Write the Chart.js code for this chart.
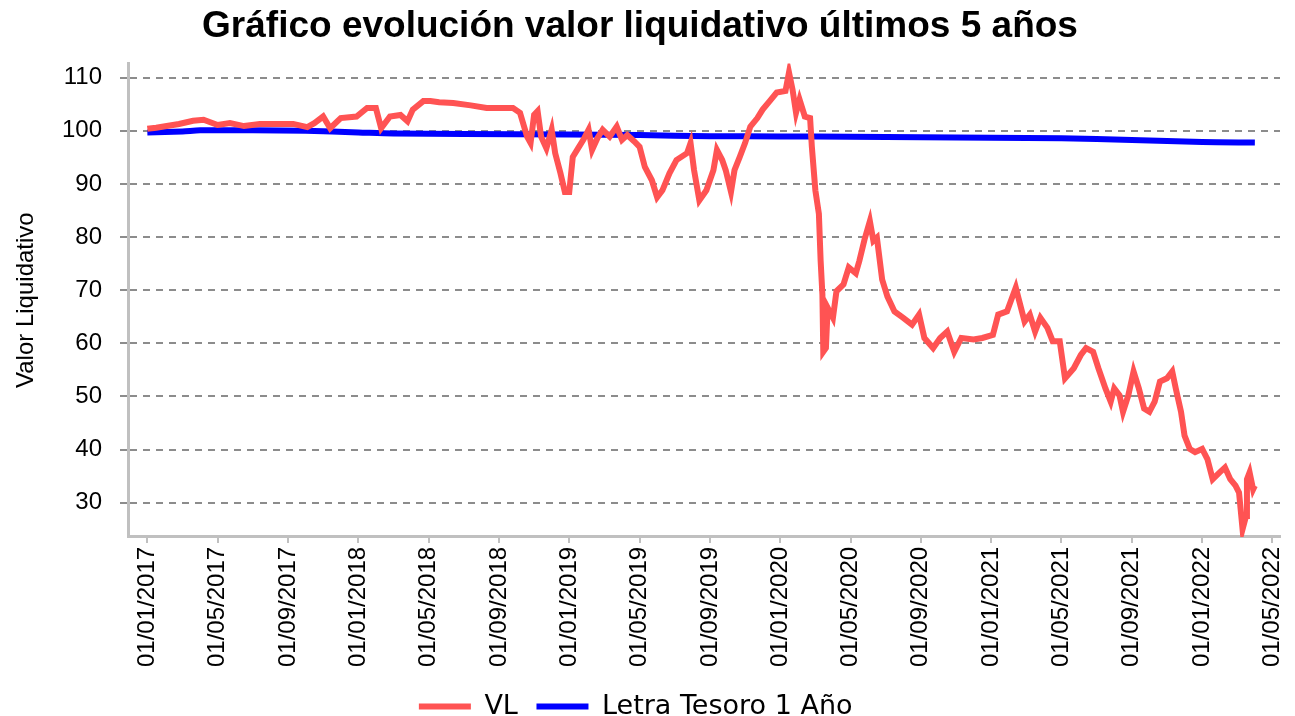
<!DOCTYPE html>
<html>
<head>
<meta charset="utf-8">
<script src="https://cdn.jsdelivr.net/npm/chart.js@4/dist/chart.umd.min.js"></script>
<style>
  html, body { margin: 0; padding: 0; background: #fff; }
  #wrap { width: 1295px; height: 716px; }
</style>
</head>
<body>
<div id="wrap"><canvas id="chart"></canvas></div>
<script>
// x values are months counted from 01/01/2017
const xTickMonths = [0, 4, 8, 12, 16, 20, 24, 28, 32, 36, 40, 44, 48, 52, 56, 60, 64];
const xTickLabels = ['01/01/2017', '01/05/2017', '01/09/2017', '01/01/2018', '01/05/2018', '01/09/2018',
  '01/01/2019', '01/05/2019', '01/09/2019', '01/01/2020', '01/05/2020', '01/09/2020',
  '01/01/2021', '01/05/2021', '01/09/2021', '01/01/2022', '01/05/2022'];

const vlMonths = [0, 0.5, 1.1, 1.8, 2.6, 3.2, 4.0, 4.7, 5.5, 6.4, 7.4, 8.3, 9.1, 9.5, 10.0, 10.4, 11.0, 11.9,
  12.5, 13.0, 13.3, 13.8, 14.4, 14.8, 15.1, 15.7, 16.1, 16.6, 17.4, 18.4, 19.3, 20.8, 21.2, 21.6, 21.8,
  22.0, 22.2, 22.4, 22.7, 23.0, 23.2, 23.5, 23.75, 24.0, 24.2, 24.5, 24.8, 25.1, 25.3, 25.6, 25.9, 26.3,
  26.7, 27.0, 27.3, 27.7, 28.0, 28.3, 28.7, 29.0, 29.3, 29.7, 30.1, 30.7, 30.9, 31.1, 31.4, 31.8, 32.2,
  32.4, 32.7, 32.9, 33.2, 33.4, 33.7, 34.0, 34.3, 34.7, 35.0, 35.4, 35.8, 36.3, 36.5, 36.7, 36.9, 37.1,
  37.4, 37.7, 37.8, 38.0, 38.2, 38.3, 38.4, 38.45, 38.6, 38.7, 39.0, 39.2, 39.6, 39.9, 40.3, 40.5, 40.8,
  41.1, 41.3, 41.5, 41.8, 42.1, 42.5, 43.0, 43.5, 43.9, 44.2, 44.7, 45.1, 45.5, 45.9, 46.3, 47.0, 47.5,
  48.1, 48.4, 48.9, 49.4, 49.6, 49.9, 50.2, 50.5, 50.8, 51.2, 51.5, 51.9, 52.2, 52.7, 53.1, 53.4, 53.8,
  54.1, 54.5, 54.8, 55.0, 55.3, 55.5, 55.8, 56.1, 56.4, 56.7, 57.0, 57.3, 57.6, 58.0, 58.3, 58.5, 58.8,
  59.0, 59.3, 59.6, 60.0, 60.3, 60.6, 61.0, 61.3, 61.6, 61.9, 62.1, 62.3, 62.5, 62.55, 62.7, 62.9, 63.0];
const vlValues = [100.4, 100.6, 100.9, 101.3, 101.9, 102.1, 101.1, 101.45, 100.9, 101.3, 101.3, 101.3, 100.7, 101.45, 102.7, 100.5, 102.4, 102.7,
  104.3, 104.3, 100.5, 102.7, 103.0, 101.8, 104.0, 105.6, 105.6, 105.4, 105.25, 104.8, 104.3, 104.3, 103.4, 98.9, 97.7,
  103.0, 103.7, 98.9, 96.7, 100.2, 95.8, 92.0, 88.5, 88.5, 95.1, 96.7, 98.3, 100.2, 96.4, 98.6, 100.2, 98.9,
  100.8, 98.3, 99.2, 98.0, 97.0, 93.2, 90.7, 87.5, 88.8, 92.0, 94.5, 95.8, 97.7, 92.6, 86.9, 88.8, 92.6,
  96.4, 94.5, 92.6, 88.5, 92.6, 95.1, 97.7, 100.8, 102.4, 104.0, 105.6, 107.2, 107.5, 111.0, 107.8, 103.4, 105.9,
  102.7, 102.4, 97.0, 88.8, 84.4, 75.5, 69.2, 58.4, 59.1, 66.7, 64.8, 69.8, 71.1, 74.3, 73.2, 75.5, 79.6,
  83.0, 79.3, 79.9, 72.0, 68.8, 66.0, 64.8, 63.5, 65.4, 61.0, 59.1, 61.0, 62.2, 58.4, 61.0, 60.7, 61.0,
  61.6, 65.4, 66.0, 70.5, 67.9, 64.1, 65.4, 62.2, 64.8, 62.9, 60.4, 60.4, 53.4, 55.3, 57.8, 59.1, 58.4,
  55.3, 51.5, 49.0, 51.5, 50.2, 47.1, 50.2, 54.7, 51.5, 47.7, 47.1, 49.0, 52.8, 53.4, 54.7, 51.5, 47.1,
  42.6, 40.1, 39.5, 40.1, 38.2, 34.4, 35.7, 36.6, 34.4, 33.2, 31.9, 25.0, 27.5, 34.4, 35.7, 32.5, 33.2];

const letraMonths = [0, 2, 3, 6, 9, 12, 14, 18, 24, 28, 32, 36, 40, 44, 48, 52, 56, 60, 63.0];
const letraValues = [99.7, 99.9, 100.1, 100.1, 100.0, 99.7, 99.5, 99.4, 99.3, 99.2, 99.0, 98.95, 98.9, 98.8, 98.7, 98.6, 98.3, 97.9, 97.8];

const toPoints = (xs, ys) => xs.map((x, i) => ({ x: x, y: ys[i] }));

const sansFont = "'Liberation Sans', Arial, sans-serif";

new Chart(document.getElementById('chart'), {
  type: 'line',
  data: {
    datasets: [
      {
        label: 'VL',
        data: toPoints(vlMonths, vlValues),
        borderColor: '#ff5353',
        backgroundColor: '#ff5353',
        borderWidth: 6,
        pointRadius: 0,
        tension: 0
      },
      {
        label: 'Letra Tesoro 1 Año',
        data: toPoints(letraMonths, letraValues),
        borderColor: '#0000ff',
        backgroundColor: '#0000ff',
        borderWidth: 6,
        pointRadius: 0,
        tension: 0.3
      }
    ]
  },
  options: {
    responsive: true,
    maintainAspectRatio: false,
    animation: false,
    layout: { padding: { left: 0, right: 15, top: 0, bottom: -14 } },
    plugins: {
      title: {
        display: true,
        text: 'Gráfico evolución valor liquidativo últimos 5 años',
        color: '#000',
        font: { family: sansFont, size: 37, weight: 'bold' },
        padding: { top: 5, bottom: 14 }
      },
      legend: {
        position: 'bottom',
        labels: {
          color: '#000',
          font: { family: "'DejaVu Sans', sans-serif", size: 27 },
          usePointStyle: true,
          pointStyleWidth: 52,
          padding: 10,
          generateLabels: chart => Chart.defaults.plugins.legend.labels.generateLabels(chart)
            .map(l => ({ ...l, text: l.text + ' ', pointStyle: 'line', lineWidth: 6 }))
        }
      },
      tooltip: { enabled: false }
    },
    scales: {
      x: {
        type: 'linear',
        min: -1.1,
        max: 64.43,
        afterBuildTicks: scale => { scale.ticks = xTickMonths.map(v => ({ value: v })); },
        afterFit: scale => {
          scale.height += 12;
          scale.paddingLeft = 0;
          scale.paddingRight = 0;
        },
        ticks: {
          autoSkip: false,
          minRotation: 90,
          maxRotation: 90,
          padding: 4,
          color: '#000',
          font: { family: sansFont, size: 24 },
          callback: (value, i) => xTickLabels[i]
        },
        grid: { display: true, drawOnChartArea: false, drawTicks: true, tickLength: 6, color: '#c0c0c0', lineWidth: 2 },
        border: { display: true, color: '#c0c0c0', width: 3 }
      },
      y: {
        min: 23.55,
        max: 112.7,
        afterFit: scale => { scale.width = 128; },
        ticks: {
          stepSize: 10,
          includeBounds: false,
          padding: 18,
          color: '#000',
          font: { family: sansFont, size: 24 }
        },
        title: {
          display: true,
          text: 'Valor Liquidativo',
          color: '#000',
          font: { family: sansFont, size: 24 },
          padding: { top: 12, bottom: 0 }
        },
        grid: { color: 'rgba(120,120,120,0.85)', lineWidth: 2, tickLength: 8, tickBorderDash: [7, 6] },
        border: { display: true, color: '#c0c0c0', width: 3, dash: [7, 6] }
      }
    }
  }
});
</script>
</body>
</html>
